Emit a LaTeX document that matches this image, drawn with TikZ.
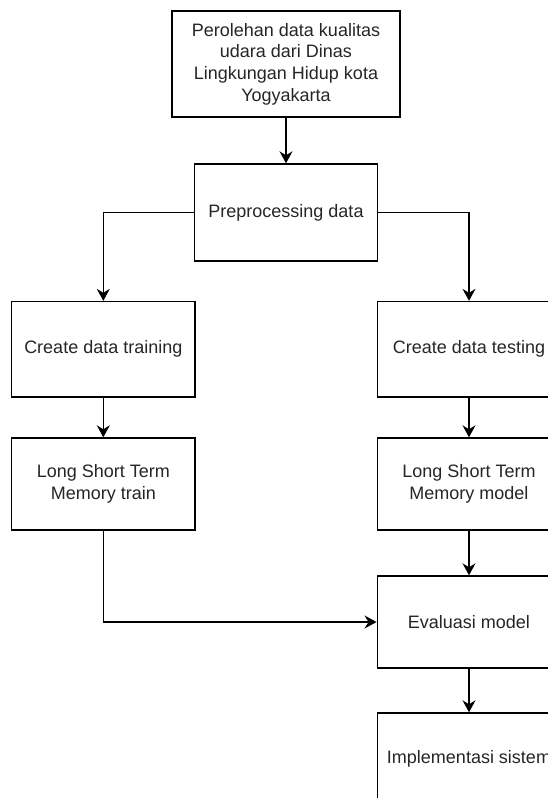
\documentclass[tikz,border=0pt]{standalone}
\usepackage{fontspec}
\setmainfont{Liberation Sans}
\usetikzlibrary{arrows.meta}
\begin{document}
\begin{tikzpicture}[x=1pt,y=-1pt,
  box/.style={draw=black,line width=1.4pt,fill=white,align=center,inner sep=0pt,
    font=\fontsize{18}{21.7}\selectfont,text=black!85},
  arr/.style={draw=black,line width=1.4pt,-{Stealth[length=12pt,width=13pt,inset=4pt]}}]
\useasboundingbox (0,0) rectangle (548,798);
\node[box,minimum width=228pt,minimum height=106pt] (top) at (286,64)
  {Perolehan data kualitas\\udara dari Dinas\\Lingkungan Hidup kota\\Yogyakarta};
\node[box,minimum width=183pt,minimum height=97pt] (prep) at (286,212.5) {Preprocessing data};
\node[box,minimum width=183.5pt,minimum height=95.5pt] (ctrain) at (103.3,349.3) {Create data training};
\node[box,minimum width=183.5pt,minimum height=95.5pt] (ctest) at (469,349.3) {Create data testing};
\node[box,minimum width=183.5pt,minimum height=92pt] (ltrain) at (103.3,484) {Long Short Term\\Memory train};
\node[box,minimum width=183.5pt,minimum height=92pt] (lmodel) at (469,484) {Long Short Term\\Memory model};
\node[box,minimum width=183.5pt,minimum height=92pt] (eval) at (469,622) {Evaluasi model};
\node[box,minimum width=183.5pt,minimum height=92pt] (impl) at (469,759) {Implementasi sistem};
\draw[arr] (top.south) -- (prep.north);
\draw[arr] (prep.west) -| (ctrain.north);
\draw[arr] (prep.east) -| (ctest.north);
\draw[arr] (ctrain.south) -- (ltrain.north);
\draw[arr] (ctest.south) -- (lmodel.north);
\draw[arr] (lmodel.south) -- (eval.north);
\draw[arr] (eval.south) -- (impl.north);
\draw[arr] (ltrain.south) |- (eval.west);
\end{tikzpicture}
\end{document}
